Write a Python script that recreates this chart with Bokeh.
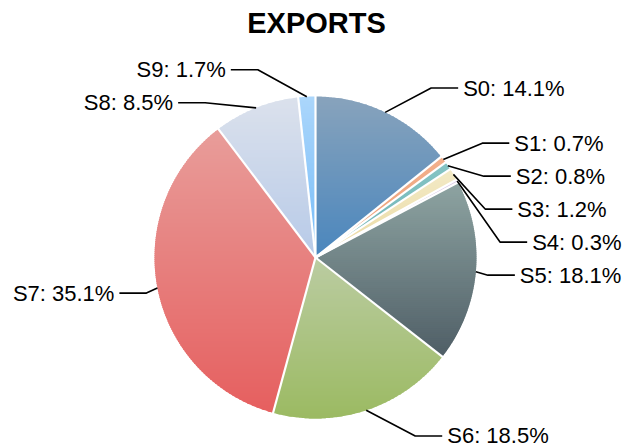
import numpy as np
from bokeh.plotting import figure
from bokeh.models import Range1d, ColumnDataSource
from bokeh.core.properties import value
from bokeh.embed import file_html
from bokeh.resources import INLINE

# ---- data ----
names = ["S0", "S1", "S2", "S3", "S4", "S5", "S6", "S7", "S8", "S9"]
shares = [14.1, 0.7, 0.8, 1.2, 0.3, 18.1, 18.5, 35.1, 8.5, 1.7]
title_text = "EXPORTS"

# ---- styles ----
top_colors = ["#88a3bc", "#f2b08c", "#86c4c4", "#f3eac6", "#dccbe8",
              "#8ea4a2", "#bbcca2", "#e89d9a", "#dbe1ec", "#abd6fb"]
bottom_colors = ["#4a86bd", "#eb9c74", "#6cb2b6", "#ead9a2", "#b9a3d2",
                 "#4f5e66", "#9bba62", "#e65f5f", "#b7cae8", "#76bcf8"]
LEADER_DX = [46, 39, 36, 32, 43, 12, 49, -11, -51, -49]

# ---- layout (screen pixels) ----
cx, cy, r = 315.0, 257.0, 161.0
r_label, gap, hseg, tgap = 188.0, 33.0, 27.0, 5.0

W, H = 630, 448
p = figure(width=W, height=H, x_range=Range1d(0, W), y_range=Range1d(H, 0),
           output_backend="svg", toolbar_location=None, min_border=0,
           x_axis_type=None, y_axis_type=None)
p.grid.visible = False
p.outline_line_color = None


def hex2rgb(h):
    h = h.lstrip("#")
    return np.array([int(h[i:i + 2], 16) for i in (0, 2, 4)], dtype=float)


def mix(a, b, t):
    c = hex2rgb(a) * (1 - t) + hex2rgb(b) * t
    return "#%02x%02x%02x" % tuple(int(round(v)) for v in c)


def clip_half(pts, inside, inter):
    out = []
    n = len(pts)
    for i in range(n):
        cur, prev = pts[i], pts[i - 1]
        ci, pi = inside(cur), inside(prev)
        if ci:
            if not pi:
                out.append(inter(prev, cur))
            out.append(cur)
        elif pi:
            out.append(inter(prev, cur))
    return out


def inter_y(yv):
    def f(a, b):
        t = (yv - a[1]) / (b[1] - a[1])
        return (a[0] + t * (b[0] - a[0]), yv)
    return f


total = float(sum(shares))
fr = np.array(shares) / total
ends = np.cumsum(fr) * 360.0
starts = ends - fr * 360.0
mids = (starts + ends) / 2.0

bx, by, bc = [], [], []
band = 2.0
for i in range(len(names)):
    a0, a1 = np.radians(starts[i]), np.radians(ends[i])
    n = max(4, int((ends[i] - starts[i]) / 0.5))
    th = np.linspace(a0, a1, n)
    poly = [(cx, cy)] + [(cx + r * np.sin(t), cy - r * np.cos(t)) for t in th]
    ys_ = [q[1] for q in poly]
    ymin, ymax = min(ys_), max(ys_)
    yb = ymin
    while yb < ymax:
        y0, y1 = yb, min(yb + band + 0.9, ymax)
        sub = clip_half(poly, lambda q, y0=y0: q[1] >= y0, inter_y(y0))
        if sub:
            sub = clip_half(sub, lambda q, y1=y1: q[1] <= y1, inter_y(y1))
        if len(sub) >= 3:
            t = ((yb + band / 2) - ymin) / max(ymax - ymin, 1e-6)
            t = min(max(t, 0), 1)
            bx.append([q[0] for q in sub])
            by.append([q[1] for q in sub])
            bc.append(mix(top_colors[i], bottom_colors[i], t))
        yb += band

p.patches(xs=bx, ys=by, fill_color=bc, line_color=None)

# white separators
sx, sy = [], []
for a in starts:
    t = np.radians(a)
    sx.append([cx, cx + (r + 1.5) * np.sin(t)])
    sy.append([cy, cy - (r + 1.5) * np.cos(t)])
p.multi_line(xs=sx, ys=sy, line_color="white", line_width=2.2)

# label layout
right = [i for i in range(len(names)) if mids[i] < 180]
left = [i for i in range(len(names)) if mids[i] >= 180]
label_y = {}
for side in (right, left):
    init = sorted(side, key=lambda i: cy - r_label * np.cos(np.radians(mids[i])))
    last = -1e9
    for i in init:
        y = cy - r_label * np.cos(np.radians(mids[i]))
        y = max(y, last + gap)
        label_y[i] = y
        last = y

lx, ly = [], []
rt = dict(x=[], y=[], text=[])
lt = dict(x=[], y=[], text=[])
for i in range(len(names)):
    t = np.radians(mids[i])
    ax, ay = cx + r * np.sin(t), cy - r * np.cos(t)
    ex = ax + LEADER_DX[i]
    yl = label_y[i]
    sgn = 1 if i in right else -1
    hx = ex + sgn * hseg
    lx.append([ax, ex, hx])
    ly.append([ay, yl, yl])
    d = rt if sgn > 0 else lt
    d["x"].append(hx + sgn * tgap)
    d["y"].append(yl)
    d["text"].append(f"{names[i]}: {shares[i]:.1f}%")

p.multi_line(xs=lx, ys=ly, line_color="black", line_width=1.6)
p.text(x="x", y="y", text="text", source=ColumnDataSource(rt), text_align="left",
       text_baseline="middle", text_font=value("Liberation Sans"),
       text_font_size="22px", text_color="black")
p.text(x="x", y="y", text="text", source=ColumnDataSource(lt), text_align="right",
       text_baseline="middle", text_font=value("Liberation Sans"),
       text_font_size="22px", text_color="black")

p.text(x=[316], y=[22], text=[title_text], text_align="center", text_baseline="middle",
       text_font=value("Liberation Sans"), text_font_style="bold",
       text_font_size="29px", text_color="black")

open("out.html", "w").write(file_html(p, INLINE))
